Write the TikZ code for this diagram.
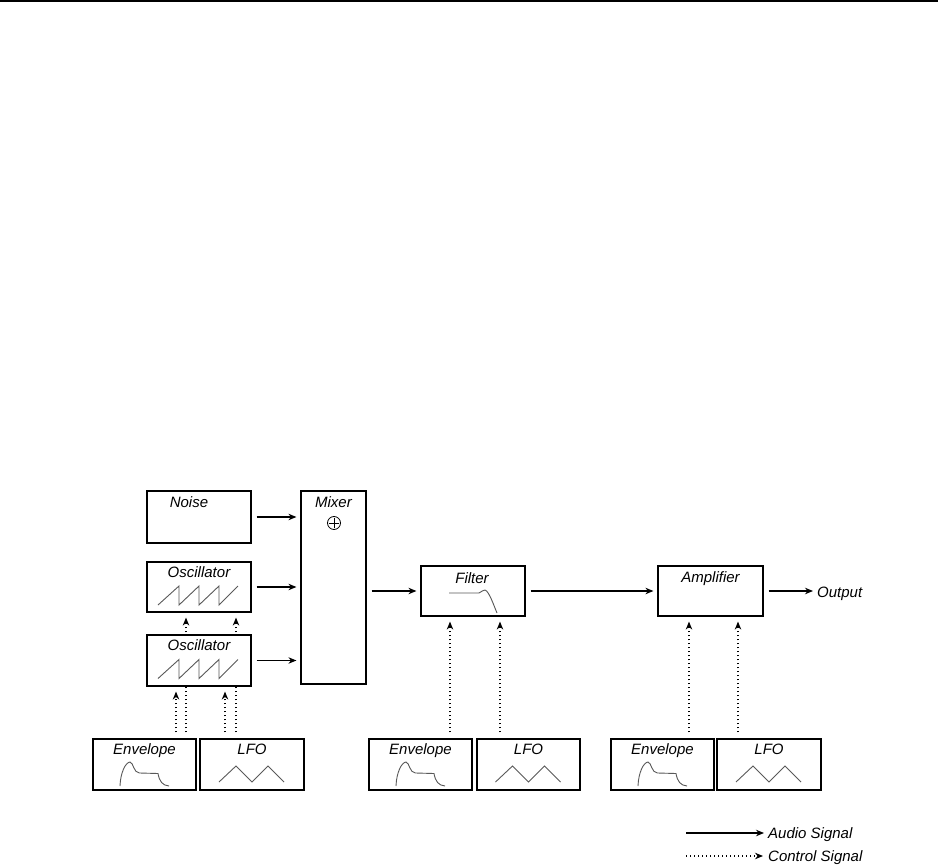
\documentclass[tikz,border=0pt]{standalone}
\usepackage{fontspec}
\setmainfont{Liberation Sans}
\usetikzlibrary{arrows.meta,backgrounds}

\tikzset{
  blk/.style={draw, line width=1.2pt, fill=white, inner sep=0pt,
    minimum width=104pt, minimum height=50pt},
  ttl/.style={font=\fontsize{15}{18}\selectfont\itshape, inner sep=0pt, anchor=base},
  wave/.style={gray!70!black, line width=0.9pt},
  audio/.style={-{Stealth[length=8pt,width=6.5pt]}, line width=1.2pt,
    shorten <=5pt, shorten >=4pt},
  ctrl/.style={audio, dash pattern=on 1.2pt off 2.8pt, shorten <=6pt, shorten >=5pt},
}

\begin{document}
\begin{tikzpicture}[x=1pt, y=-1pt]
        \useasboundingbox (0,0) rectangle (938,867);

        % Rule at the top
        \draw[line width=2pt] (0,1) -- (938,1);

        % --- Sources and mixer ---
        \node[blk, minimum height=52pt] (noise) at (199,517) {};
        \node[blk] (osc1) at (199,587) {};
        \node[blk, minimum height=51pt] (osc2) at (199,660.5) {};
        \node[blk, minimum width=65pt, minimum height=193pt] (mixer) at (333.5,587.5) {};
        \node[ttl] (noise-t) at ([xshift=-10pt, yshift=-17pt]noise.north) {Noise};
        \node[ttl] (osc1-t) at ([yshift=-16pt]osc1.north) {Oscillator};
        \node[ttl] (osc2-t) at ([yshift=-16pt]osc2.north) {Oscillator};
        \node[ttl] (mixer-t) at ([yshift=-17pt]mixer.north) {Mixer};

        % Summing symbol
        \coordinate (mixsum) at (334,523);
        \draw[line width=0.8pt] (mixsum) circle (6.5pt);
        \draw[line width=0.8pt] ([xshift=-5pt]mixsum) -- ([xshift=5pt]mixsum);
        \draw[line width=0.8pt] ([yshift=-5pt]mixsum) -- ([yshift=5pt]mixsum);

        % Sawtooth waves
        \foreach \o in {osc1,osc2}
            \draw[wave, shift={(\o.center)}] (-41,18) -- (-20,-1) -- (-20,18) -- (0,-1)
                -- (0,18) -- (20,-1) -- (20,18) -- (39,-1);

        % --- Filter, amplifier, output ---
        \node[blk] (filter) at (473,591) {};
        \node[blk, minimum width=105pt] (amp) at (710.5,591) {};
        \node[ttl] (filter-t) at ([xshift=-1pt, yshift=-18pt]filter.north) {Filter};
        \node[ttl] (amp-t) at ([yshift=-17pt]amp.north) {Amplifier};
        \node[ttl, anchor=base west] (out) at (817,597) {Output};
        \draw[wave, shift={(filter.center)}] (-24,2) -- (6,2)
            .. controls (9,1) and (10,-1.5) .. (12,-1)
            .. controls (16,0) and (21,15) .. (24,22);

        % --- Control sources ---
        \node[blk, minimum width=103pt, minimum height=51pt] (env1) at (144.5,764.5) {};
        \node[blk, minimum width=104pt, minimum height=51pt] (lfo1) at (252,764.5) {};
        \node[blk, minimum width=103pt, minimum height=51pt] (env2) at (420.5,764.5) {};
        \node[blk, minimum width=103pt, minimum height=51pt] (lfo2) at (528.5,764.5) {};
        \node[blk, minimum width=103pt, minimum height=51pt] (env3) at (662.5,764.5) {};
        \node[blk, minimum width=104pt, minimum height=51pt] (lfo3) at (769,764.5) {};
        \foreach \n/\t in {env1/Envelope, lfo1/LFO, env2/Envelope, lfo2/LFO, env3/Envelope, lfo3/LFO}
            \node[ttl] (\n-t) at ([yshift=-16.5pt]\n.north) {\t};

        % Envelope and triangle shapes
        \foreach \e in {env1,env2,env3}
            \draw[wave, shift={(\e.center)}] (-24.5,21.5) .. controls (-24,8) and (-19,-2) .. (-14.5,-2.5)
                .. controls (-11,-2) and (-11,8.5) .. (-5,8.5) -- (13.5,9)
                .. controls (15,17) and (18,21) .. (24.5,21.5);
        \foreach \l in {lfo1,lfo2,lfo3}
            \draw[wave, shift={(\l.center)}] (-33,17.5) -- (-16,1.5) -- (0,17.5) -- (16,1.5) -- (32,17.5);

        % Audio path
        \draw[audio] (noise.east) -- (noise.east -| mixer.west);
        \draw[audio] (osc1.east) -- (osc1.east -| mixer.west);
        \draw[audio] (osc2.east) -- (osc2.east -| mixer.west);
        \draw[audio] (mixer.east |- filter.west) -- (filter.west);
        \draw[audio] (filter.east) -- (amp.west);
        \draw[audio] (amp.east) -- (amp.east -| out.west);

        % Control path (behind the boxes)
        \begin{pgfonlayer}{background}
            \foreach \x/\s/\d in {176/env1/osc2, 186/env1/osc1, 225/lfo1/osc2, 236/lfo1/osc1,
                                  450/env2/filter, 500/lfo2/filter, 689/env3/amp, 738/lfo3/amp}
                \draw[ctrl] (\s.north -| \x,0) -- (\d.south -| \x,0);
        \end{pgfonlayer}

        % Legend
        \coordinate (aud0) at (686,833);
        \coordinate (ctl0) at (686,856);
        \node[ttl, anchor=base west] (aud-t) at (768,838.5) {Audio Signal};
        \node[ttl, anchor=base west] (ctl-t) at (768,861.5) {Control Signal};
        \draw[audio, shorten <=0pt] (aud0) -- (aud0 -| aud-t.west);
        \draw[ctrl, shorten <=0pt] (ctl0) -- (ctl0 -| ctl-t.west);
\end{tikzpicture}
\end{document}
